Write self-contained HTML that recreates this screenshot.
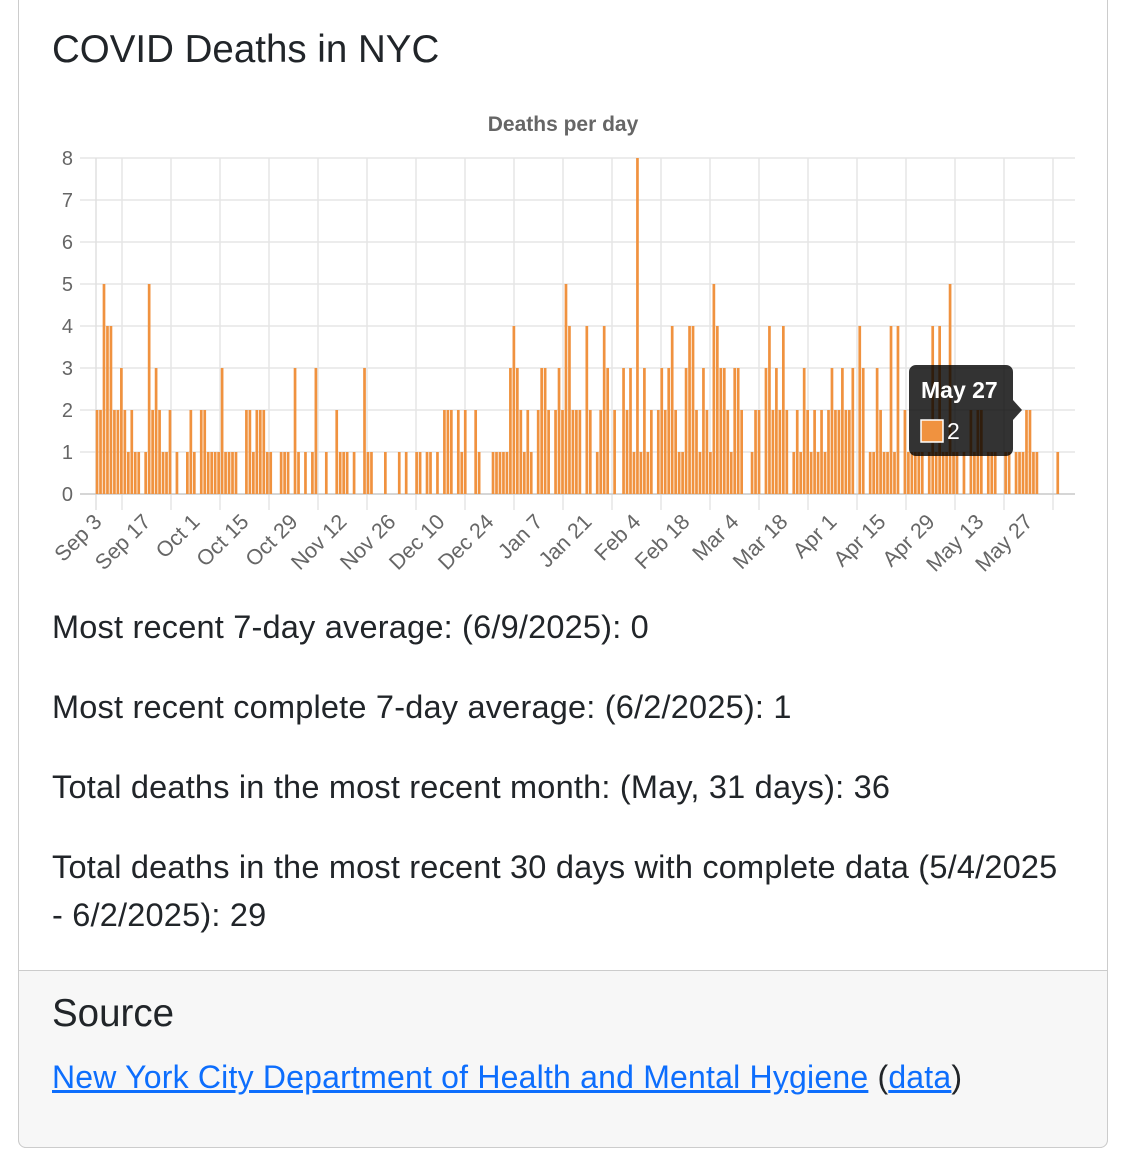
<!DOCTYPE html>
<html><head><meta charset="utf-8"><style>
body{margin:0;background:#fff;font-family:"Liberation Sans",Arial,sans-serif;color:#212529;}
.card{position:absolute;left:18px;top:-10px;width:1088px;height:1156px;border:1px solid #ccc;border-radius:8px;background:#fff;overflow:hidden;}
h1{position:absolute;left:52px;top:28px;margin:0;font-size:38.5px;font-weight:500;}
p{position:absolute;left:52px;margin:0;font-size:32.5px;line-height:48px;letter-spacing:0.2px;}
.foot{position:absolute;left:18px;top:970px;width:1088px;height:176px;background:#f7f7f7;border:1px solid #ccc;border-radius:0 0 8px 8px;}
a{color:#0d6efd;text-decoration:underline;}
</style></head><body>
<div class="card"></div>
<div class="foot"></div>
<h1>COVID Deaths in NYC</h1>
<svg id="c" width="1136" height="600" style="position:absolute;left:0;top:0" font-family="Liberation Sans, Arial, sans-serif"></svg>
<p style="top:603px">Most recent 7-day average: (6/9/2025): 0</p>
<p style="top:683px">Most recent complete 7-day average: (6/2/2025): 1</p>
<p style="top:763px">Total deaths in the most recent month: (May, 31 days): 36</p>
<p style="top:843px;width:1015px">Total deaths in the most recent 30 days with complete data (5/4/2025 - 6/2/2025): 29</p>
<h1 style="top:992px">Source</h1>
<p style="top:1053px;font-size:32px"><a>New York City Department of Health and Mental Hygiene</a> (<a>data</a>)</p>
<script>
var d=[2,2,5,4,4,2,2,3,2,1,2,1,1,0,1,5,2,3,2,1,1,2,0,1,0,0,1,2,1,0,2,2,1,1,1,1,3,1,1,1,1,0,0,2,2,1,2,2,2,1,1,0,0,1,1,1,0,3,1,0,1,0,1,3,0,0,1,0,0,2,
1,1,1,0,1,0,0,3,1,1,0,0,0,1,0,0,0,1,0,1,0,0,1,1,0,1,1,0,1,0,2,2,2,0,2,1,2,0,0,2,1,0,0,0,1,1,1,1,1,3,4,3,2,1,2,1,0,2,3,3,2,0,2,3,2,5,4,2,2,
2,0,4,2,0,1,2,4,3,0,2,0,3,2,3,1,8,1,3,1,2,0,2,3,2,3,4,2,1,1,3,4,4,2,1,3,2,1,5,4,3,3,2,1,3,3,2,0,0,1,2,2,0,3,4,2,3,2,4,2,0,1,2,1,3,2,1,2,
1,2,1,2,3,2,2,3,2,2,3,0,4,3,0,1,1,3,2,1,1,4,1,4,0,2,1,1,1,1,1,0,1,4,1,4,1,1,5,1,1,0,1,0,2,1,2,2,0,1,1,1,0,0,1,1,0,1,1,1,2,2,1,1,0,0,0,0,0,1];
var s='',Y0=494,U=42,sp=(1055.7-97)/(d.length-1);
for(var k=0;k<=8;k++){var y=Y0-k*U;s+='<line x1="80" x2="1075" y1="'+y+'" y2="'+y+'" stroke="#e5e5e5" stroke-width="1.5"/><text x="73" y="'+(y+7)+'" text-anchor="end" font-size="20" fill="#666">'+k+'</text>';}
s+='<line x1="96" x2="96" y1="158" y2="510" stroke="#e0e0e0" stroke-width="1.5"/>';
for(var g=122;g<1076;g+=49)s+='<line x1="'+g+'" x2="'+g+'" y1="158" y2="510" stroke="#e5e5e5" stroke-width="1.5"/>';
s+='<line x1="80" x2="1075" y1="494" y2="494" stroke="#ccc" stroke-width="1.5"/>';
for(var i=0;i<d.length;i++){var x=95.7+sp*i;if(i>150)x+=2;if(d[i])s+='<rect x="'+x+'" y="'+(Y0-d[i]*U)+'" width="2.7" height="'+(d[i]*U)+'" fill="#f0923f"/>';}
var L=["Sep 3","Sep 17","Oct 1","Oct 15","Oct 29","Nov 12","Nov 26","Dec 10","Dec 24","Jan 7","Jan 21","Feb 4","Feb 18","Mar 4","Mar 18","Apr 1","Apr 15","Apr 29","May 13","May 27"];
for(var j=0;j<L.length;j++){var x=98+49*j+5,y=523;s+='<text x="'+x+'" y="'+y+'" text-anchor="end" font-size="21.5" fill="#666" transform="rotate(-45 '+x+' '+y+')">'+L[j]+'</text>';}
s+='<text x="563" y="131" text-anchor="middle" font-size="21" font-weight="bold" fill="#666">Deaths per day</text>';
s+='<path d="M916 365 H1006 a7 7 0 0 1 7 7 V400 L1022 410 L1013 420 V449 a7 7 0 0 1 -7 7 H916 a7 7 0 0 1 -7 -7 V372 a7 7 0 0 1 7 -7Z" fill="rgba(0,0,0,0.8)"/>';
s+='<text x="921" y="398" font-size="23" font-weight="bold" fill="#fff">May 27</text>';
s+='<rect x="921" y="420" width="22" height="22" fill="#f0923f" stroke="#fff" stroke-width="1.5"/><text x="947" y="439" font-size="23" fill="#fff">2</text>';
document.getElementById('c').innerHTML=s;
</script>
</body></html>
